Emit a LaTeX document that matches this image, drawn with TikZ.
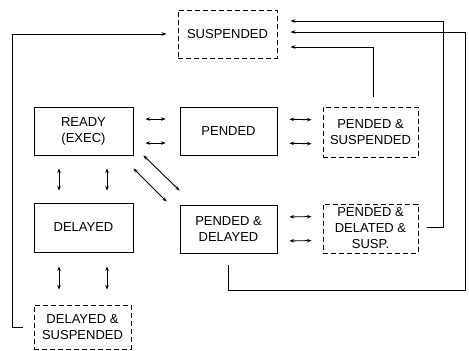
\documentclass[tikz,border=0pt]{standalone}
\usepackage{fontspec}
\setmainfont{Liberation Sans}
\usetikzlibrary{arrows.meta}
\begin{document}
\begin{tikzpicture}[x=1pt,y=-1pt,
  every node/.style={font=\fontsize{13}{16}\selectfont, align=center, inner sep=0pt},
  state/.style={draw, line width=0.9pt, minimum width=#1, minimum height=48pt},
  state/.default=99pt,
  susstate/.style={state=#1, dash pattern=on 5pt off 3pt},
  susstate/.default=96pt,
  link/.style={line width=0.9pt, {Stealth[length=4.5pt,width=3.5pt]}-{Stealth[length=4.5pt,width=3.5pt]}},
  loop/.style={line width=0.9pt, -{Stealth[length=5pt,width=3.5pt]}}]
\useasboundingbox (0,0) rectangle (469,351);
\node[susstate=99pt] (susp) at (227.5,34) {SUSPENDED};
\node[state] (ready) at (83.5,131) {READY\\(EXEC)};
\node[state=97pt] (pended) at (228.5,131) {PENDED};
\node[susstate=95pt, minimum height=50pt] (ps) at (370.5,132) {PENDED \&\\SUSPENDED};
\node[state, minimum height=49pt] (delayed) at (83.5,227.5) {DELAYED};
\node[state=97pt] (pd) at (228.5,229) {PENDED \&\\DELAYED};
\node[susstate=95pt, minimum height=49pt] (pds) at (370.5,228.5) {PENDED \&\\DELATED \&\\SUSP.};
\node[susstate=97pt, minimum height=44pt] (ds) at (82.5,327) {DELAYED \&\\SUSPENDED};
% horizontal pairs
\foreach \s in {12pt,-12pt}{
  \draw[link, shorten <=12pt, shorten >=14pt] ([yshift=\s]ready.east) -- ([yshift=\s]pended.west);
  \draw[link, shorten <=12pt, shorten >=11pt] ([yshift=\s]pended.east) -- ([yshift=\s]ps.west);
  \draw[link, shorten <=12pt, shorten >=11pt] ([yshift=\s]pd.east) -- ([yshift=\s]pds.west);
}
% vertical pairs
\foreach \s/\t in {-24.5pt/-23.5pt,23.5pt/24.5pt}{
  \draw[link, shorten <=13pt, shorten >=12pt] ([xshift=\s]ready.south) -- ([xshift=\s]delayed.north);
  \draw[link, shorten <=14pt, shorten >=15pt] ([xshift=\s]delayed.south) -- ([xshift=\t]ds.north);
}
% diagonal pair
\draw[link] ([xshift=10pt]ready.south east) -- ([yshift=14pt]pd.north west);
\draw[link] ([yshift=-13pt]ready.south east) -- ([xshift=-13pt,yshift=3pt]pd.north west);
% loops to SUSPENDED
\draw[loop, shorten <=11pt, shorten >=11pt] (ds.west) -- (12,327) |- (susp.west);
\draw[loop, shorten <=10pt, shorten >=13pt] ([xshift=2.5pt]ps.north) |- ([yshift=-13pt]susp.east);
\draw[loop, shorten <=9pt, shorten >=13pt] ([yshift=1.5pt]pds.east) -- (443,227) |- ([yshift=13pt]susp.east);
\draw[loop, shorten <=12pt, shorten >=13pt] ([xshift=-0.5pt]pd.south) |- (465,290) |- ([yshift=2pt]susp.east);
\end{tikzpicture}
\end{document}
